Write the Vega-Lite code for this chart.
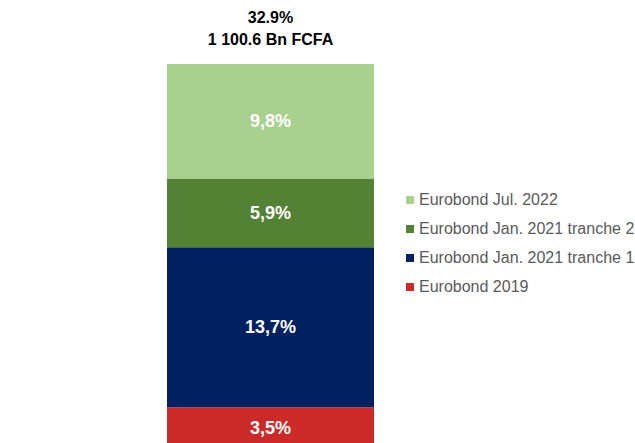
{
  "$schema": "https://vega.github.io/schema/vega-lite/v6.json",
  "width": 635,
  "height": 443,
  "autosize": {"type": "none"},
  "padding": 0,
  "background": "white",
  "config": {"view": {"stroke": null}, "font": "Liberation Sans"},
  "datasets": {
    "segments": [
      {"category": "Total", "series": "Eurobond 2019", "value": 3.5, "label": "3,5%", "order": 1},
      {"category": "Total", "series": "Eurobond Jan. 2021 tranche 1", "value": 13.7, "label": "13,7%", "order": 2},
      {"category": "Total", "series": "Eurobond Jan. 2021 tranche 2", "value": 5.9, "label": "5,9%", "order": 3},
      {"category": "Total", "series": "Eurobond Jul. 2022", "value": 9.8, "label": "9,8%", "order": 4}
    ],
    "total": [
      {"category": "Total", "total": 32.9, "text": ["32.9%", "1 100.6 Bn FCFA"]}
    ]
  },
  "layer": [
    {
      "data": {"name": "segments"},
      "transform": [
        {"stack": "value", "groupby": ["category"], "sort": [{"field": "order"}], "as": ["y0", "y1"]}
      ],
      "mark": {"type": "bar", "clip": true},
      "encoding": {
        "x": {"field": "category", "type": "nominal", "axis": null, "scale": {"range": [167, 374], "paddingInner": 0, "paddingOuter": 0}},
        "y": {"field": "y0", "type": "quantitative", "axis": null, "scale": {"domain": [0.43, 38.39], "nice": false, "zero": false}},
        "y2": {"field": "y1"},
        "color": {
          "field": "series",
          "type": "nominal",
          "scale": {
            "domain": ["Eurobond Jul. 2022", "Eurobond Jan. 2021 tranche 2", "Eurobond Jan. 2021 tranche 1", "Eurobond 2019"],
            "range": ["#a9d18e", "#548235", "#002060", "#cc2a29"]
          },
          "legend": {
            "orient": "none",
            "legendX": 402,
            "legendY": 192,
            "title": null,
            "symbolType": "square",
            "symbolSize": 64,
            "symbolStrokeWidth": 0,
            "symbolOpacity": 1,
            "labelFontSize": 16,
            "labelFont": "Liberation Sans",
            "labelColor": "#595959",
            "labelOffset": 1,
            "rowPadding": 13,
            "labelLimit": 300
          }
        }
      }
    },
    {
      "data": {"name": "segments"},
      "transform": [
        {"stack": "value", "groupby": ["category"], "sort": [{"field": "order"}], "as": ["y0", "y1"]},
        {"calculate": "(datum.y0 + datum.y1) / 2", "as": "mid"}
      ],
      "mark": {"type": "text", "color": "white", "fontWeight": "bold", "fontSize": 18, "baseline": "middle", "dy": 1, "font": "Liberation Sans"},
      "encoding": {
        "x": {"field": "category", "type": "nominal", "axis": null},
        "y": {"field": "mid", "type": "quantitative", "axis": null},
        "text": {"field": "label"}
      }
    },
    {
      "data": {"name": "total"},
      "mark": {"type": "text", "color": "black", "fontWeight": "bold", "fontSize": 16, "baseline": "middle", "lineHeight": 22, "dy": -46, "font": "Liberation Sans"},
      "encoding": {
        "x": {"field": "category", "type": "nominal", "axis": null},
        "y": {"field": "total", "type": "quantitative", "axis": null},
        "text": {"field": "text"}
      }
    }
  ]
}
